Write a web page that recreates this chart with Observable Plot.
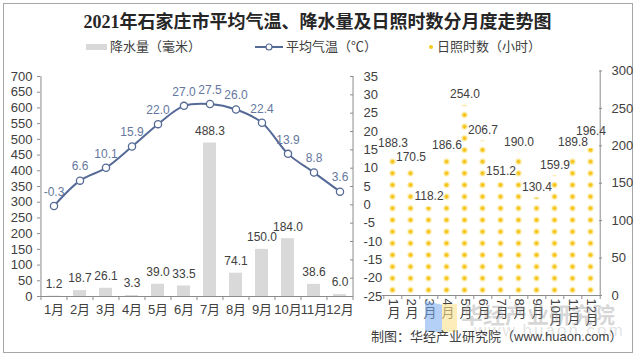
<!DOCTYPE html>
<html><head><meta charset="utf-8">
<script src="https://cdn.jsdelivr.net/npm/d3@7"></script>
<script src="https://cdn.jsdelivr.net/npm/@observablehq/plot@0.6"></script>
<style>
body{margin:0;background:#fff;}
#wrap{position:relative;width:635px;height:356px;overflow:hidden;background:#fff;font-family:"Liberation Sans",Arial,"Noto Sans CJK SC",sans-serif;color:#404040;}
#wrap svg{position:absolute;left:0;top:0;}
#border{position:absolute;left:3px;top:3px;width:628px;height:348px;border:1px solid #a6a6a6;}
.abs{position:absolute;white-space:nowrap;}
#title{left:0;width:635px;top:10px;text-align:center;font-family:"Liberation Serif","Noto Sans CJK SC",serif;font-weight:bold;font-size:18px;color:#262626;line-height:24px;}
.leg{font-size:13px;line-height:16px;top:39px;color:#404040;}
#cap{left:371px;top:329px;font-size:13px;line-height:16px;color:#404040;}
#wm1{left:461px;top:297px;font-size:22px;font-weight:bold;color:rgba(150,150,150,0.38);font-family:"Noto Sans CJK SC",sans-serif;}
#wm2{left:474px;top:321px;font-size:17px;letter-spacing:2px;color:rgba(160,160,160,0.30);}
</style></head><body>
<div id="wrap">
  <div id="border"></div>
  <div class="abs" id="title">2021年石家庄市平均气温、降水量及日照时数分月度走势图</div>
  <div class="abs" style="left:86px;top:44px;width:21px;height:6px;background:#d9d9d9;"></div>
  <div class="abs leg" style="left:110px;">降水量（毫米）</div>
  <svg width="40" height="12" style="left:252px;top:41px;"><line x1="3" y1="6" x2="31" y2="6" stroke="#556a96" stroke-width="2"/><circle cx="17" cy="6" r="3" fill="#fff" stroke="#556a96" stroke-width="1.2"/></svg>
  <div class="abs leg" style="left:286px;">平均气温（℃）</div>
  <svg width="10" height="10" style="left:426px;top:42px;"><circle cx="5" cy="5" r="2" fill="#f7c81e"/></svg>
  <div class="abs leg" style="left:437px;">日照时数（小时）</div>
  <div id="plots"></div>
  <div class="abs" style="left:425px;top:301px;width:17px;height:31px;background:rgba(120,170,240,0.55);clip-path:polygon(0 0,100% 12%,100% 100%,0 100%);"></div>
  <div class="abs" style="left:442px;top:304px;width:15px;height:28px;background:rgba(250,225,140,0.6);"></div>
  <div class="abs" id="wm1">华经产业研究院</div>
  <div class="abs" id="wm2">www.huaon.com</div>
  <div class="abs" id="cap">制图：华经产业研究院（www.huaon.com）</div>
</div>
<svg width="0" height="0" style="position:absolute;left:0;top:0">
  <defs>
    <radialGradient id="glow">
      <stop offset="0" stop-color="#f2b800"/>
      <stop offset="0.35" stop-color="#f6c61a"/>
      <stop offset="0.65" stop-color="#fbe07a" stop-opacity="0.6"/>
      <stop offset="1" stop-color="#fff2c0" stop-opacity="0"/>
    </radialGradient>
    <pattern id="sunDots" patternUnits="userSpaceOnUse" x="0" y="0" width="18.4" height="11.67">
      <circle id="sunDot" cx="9.2" cy="5.835" r="4" fill="url(#glow)"/>
    </pattern>
  </defs>
</svg>
<script>
// ---- data ----
const months = ["1月","2月","3月","4月","5月","6月","7月","8月","9月","10月","11月","12月"];
const precip = [1.2, 18.7, 26.1, 3.3, 39.0, 33.5, 488.3, 74.1, 150.0, 184.0, 38.6, 6.0];
const temp = [-0.3, 6.6, 10.1, 15.9, 22.0, 27.0, 27.5, 26.0, 22.4, 13.9, 8.8, 3.6];
const sunshine = [188.3, 170.5, 118.2, 186.6, 254.0, 206.7, 151.2, 190.0, 130.4, 159.9, 189.8, 196.4];
const precipTicks = [0, 50, 100, 150, 200, 250, 300, 350, 400, 450, 500, 550, 600, 650, 700];
const tempTicks = [-25, -20, -15, -10, -5, 0, 5, 10, 15, 20, 25, 30, 35];
const sunTicks = [0, 50, 100, 150, 200, 250, 300];

const data = months.map((m, i) => ({month: m, precip: precip[i], temp: temp[i], sun: sunshine[i]}));

// ---- layout ----
const W = 635, H = 356;
const L1 = 40, R1 = 353, T1 = 76, B1 = 296;
const L2 = 381.5, R2 = 602, T2 = 70.5, B2 = 295;
const step1 = (R1 - L1) / months.length;
const step2 = (R2 - L2) / months.length;
const AX = "#8c8c8c";
const LINE = "#556a96";
const LBL = "#6577a0";
const FONT = '"Liberation Sans", Arial, "Noto Sans CJK SC", sans-serif';
const style = {fontFamily: FONT, fontSize: "13px", color: "#404040", background: "transparent", overflow: "visible"};

const xBand = (p) => ({type: "band", domain: months, paddingInner: p, paddingOuter: p / 2, axis: null, label: null});
const last = months[months.length - 1];

// Precipitation panel
const A = Plot.plot({
  width: W, height: H, marginLeft: L1, marginRight: W - R1, marginTop: T1, marginBottom: H - B1,
  style,
  x: xBand(0.49),
  y: {domain: [0, 700], axis: null, label: null},
  marks: [
    Plot.barY(data, {x: "month", y: "precip", fill: "#d9d9d9"}),
    Plot.ruleY([0], {stroke: AX}),
    Plot.ruleX([months[0]], {x: d => d, dx: -step1 / 2, stroke: AX}),
    Plot.tickX(months, {x: d => d, dx: -step1 / 2, insetTop: B1 - T1, insetBottom: -4, stroke: AX}),
    Plot.tickX([last], {x: d => d, dx: step1 / 2, insetTop: B1 - T1, insetBottom: -4, stroke: AX}),
    Plot.axisY({anchor: "left", label: null, ticks: precipTicks, tickSize: 3, tickPadding: 5, stroke: AX, fill: "#404040", tickFormat: d => String(d)}),
    Plot.axisX({anchor: "bottom", label: null, tickSize: 0, tickPadding: 8, fill: "#404040"}),
    Plot.text(data, {x: "month", y: "precip", text: d => d.precip.toFixed(1), dy: -12, fontSize: 12, fill: "#404040"})
  ]
});

// Temperature overlay
const B = Plot.plot({
  width: W, height: H, marginLeft: L1, marginRight: W - R1, marginTop: T1, marginBottom: H - B1,
  style,
  x: xBand(0.49),
  y: {domain: [-25, 35], axis: null, label: null},
  marks: [
    Plot.ruleX([last], {x: d => d, dx: step1 / 2, stroke: AX}),
    Plot.tickY(tempTicks, {y: d => d, insetLeft: (R1 - L1) - 3, stroke: AX}),
    Plot.axisY({anchor: "right", label: null, ticks: tempTicks, tickSize: 0, tickPadding: 10, fill: "#404040", tickFormat: d => String(d)}),
    Plot.line(data, {x: "month", y: "temp", stroke: LINE, strokeWidth: 2, curve: "catmull-rom"}),
    Plot.dot(data, {x: "month", y: "temp", r: 3.6, fill: "white", stroke: LINE, strokeWidth: 1.3}),
    Plot.text(data, {x: "month", y: "temp", text: d => d.temp.toFixed(1), dy: -14, fontSize: 12, fill: LBL})
  ]
});

// Sunshine panel
const C = Plot.plot({
  width: W, height: H, marginLeft: L2, marginRight: W - R2, marginTop: T2, marginBottom: H - B2,
  style,
  x: xBand(0.5),
  y: {domain: [0, 300], axis: null, label: null},
  marks: [
    Plot.barY(data, {x: "month", y: "sun", fill: "url(#sunDots)"}),
    Plot.ruleY([0], {stroke: AX}),
    Plot.ruleX([last], {x: d => d, dx: step2 / 2, stroke: AX}),
    Plot.tickY(sunTicks, {y: d => d, insetLeft: (R2 - L2) - 3, stroke: AX}),
    Plot.tickX(months, {x: d => d, dx: -step2 / 2, insetTop: B2 - T2, insetBottom: -4, stroke: AX}),
    Plot.tickX([last], {x: d => d, dx: step2 / 2, insetTop: B2 - T2, insetBottom: -4, stroke: AX}),
    Plot.axisY({anchor: "right", label: null, ticks: sunTicks, tickSize: 0, tickPadding: 9, fill: "#404040", tickFormat: d => String(d)}),
    Plot.axisX({anchor: "bottom", label: null, tickSize: 0, tickPadding: 3, fill: "#404040"}),
    Plot.text(data.filter(d => d.month !== last), {x: "month", y: "sun", text: d => d.sun.toFixed(1), dy: -11, fontSize: 12, fill: "#404040"}),
    Plot.text(data.filter(d => d.month === last), {x: "month", y: "sun", text: d => d.sun.toFixed(1), dy: -17, fontSize: 12, fill: "#404040"})
  ]
});

// pattern alignment from the scales
const xs = C.scale("x"), ys = C.scale("y");
const pat = document.getElementById("sunDots");
const ph = 11.67;
pat.setAttribute("x", xs.apply(months[0]) - (xs.step - xs.bandwidth) / 2);
pat.setAttribute("width", xs.step);
document.getElementById("sunDot").setAttribute("cx", xs.step / 2);
pat.setAttribute("y", ys.apply(0) - 5 - ph / 2);

// vertical month labels in the sunshine panel
C.querySelectorAll('g[aria-label="x-axis tick label"] text').forEach(t => {
  t.removeAttribute("dy");
  t.removeAttribute("y");
  t.querySelectorAll("tspan").forEach(s => { s.removeAttribute("dy"); s.removeAttribute("y"); });
  t.setAttribute("text-anchor", "start");
  t.style.writingMode = "vertical-rl";
});

const host = document.getElementById("plots");
host.append(A, B, C);
</script>
</body></html>
